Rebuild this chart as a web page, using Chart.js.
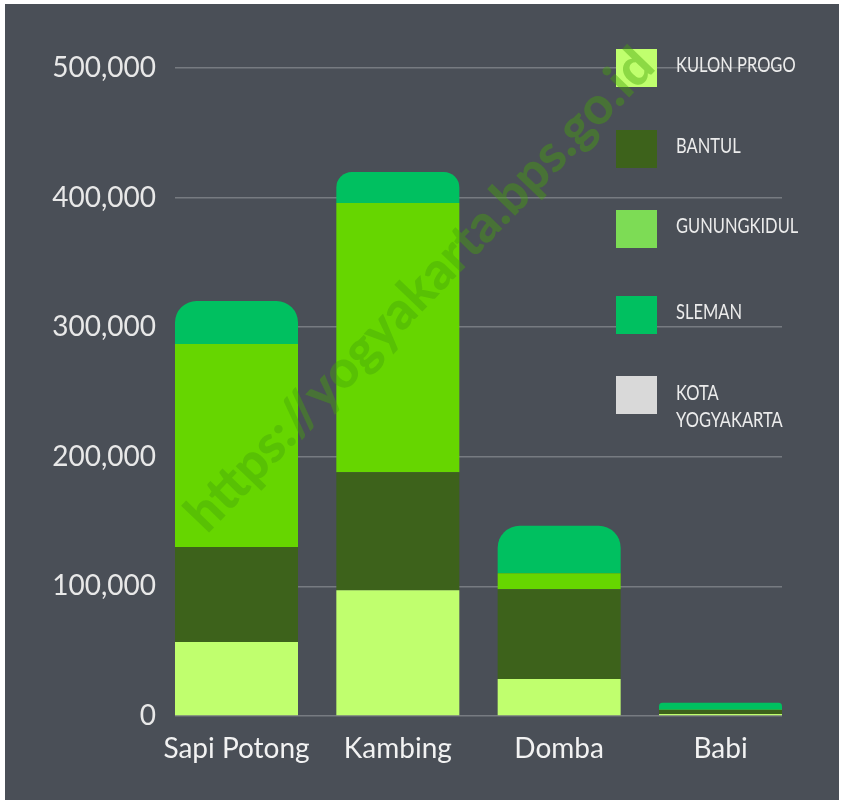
<!DOCTYPE html>
<html>
<head>
<meta charset="utf-8">
<script src="https://cdn.jsdelivr.net/npm/chart.js@4/dist/chart.umd.min.js"></script>
<style>
  html, body { margin: 0; padding: 0; background: #ffffff; }
  #wrap { width: 843px; height: 800px; position: relative; }
</style>
</head>
<body>
<div id="wrap"><canvas id="c" width="843" height="800"></canvas></div>
<script>
// ---- Data ----
const categories = ['Sapi Potong', 'Kambing', 'Domba', 'Babi'];
const seriesNames = ['KULON PROGO', 'BANTUL', 'GUNUNGKIDUL', 'SLEMAN', 'KOTA YOGYAKARTA'];
const kulonProgo     = [57100, 97000, 28500, 1500];
const bantul         = [73300, 91000, 69300, 3100];
const gunungkidul    = [156600, 207800, 12300, 300];
const sleman         = [33200, 24000, 36700, 5400];
const kotaYogyakarta = [0, 0, 0, 0];
const yTicks = [0, 100000, 200000, 300000, 400000, 500000];

// ---- Styles ----
const barColors    = ['#c0ff6e', '#3d621b', '#66d600', '#00c060', '#d9d9d9'];
const legendColors = ['#c0ff6e', '#3d621b', '#7ddc55', '#00c060', '#d9d9d9'];
const allSeries = [kulonProgo, bantul, gunungkidul, sleman, kotaYogyakarta];
const X_MIN = -0.3812, X_MAX = 3.3812;

const datasets = allSeries.map((vals, si) => ({
  label: seriesNames[si],
  data: vals.map((v, i) => ({ x: i, y: v })),
  backgroundColor: barColors[si],
  borderWidth: 0,
  borderRadius: si === 3 ? { topLeft: 22, topRight: 22, bottomLeft: 0, bottomRight: 0 } : 0,
  borderSkipped: 'start',
  categoryPercentage: 1,
  barPercentage: 0.7624
}));

const bgPlugin = {
  id: 'bg',
  beforeDraw(chart) {
    const ctx = chart.ctx;
    ctx.save();
    ctx.fillStyle = '#ffffff';
    ctx.fillRect(0, 0, chart.width, chart.height);
    ctx.fillStyle = '#4a4f57';
    ctx.fillRect(5, 4, 834, 796);
    ctx.restore();
  }
};

const legendPlugin = {
  id: 'customLegend',
  afterDraw(chart) {
    const ctx = chart.ctx;
    const boxTops = [49, 130, 210, 296, 376];
    ctx.save();
    chart.data.datasets.forEach((ds, i) => {
      ctx.fillStyle = legendColors[i];
      ctx.fillRect(616, boxTops[i], 41, 38);
      ctx.save();
      ctx.fillStyle = '#ececec';
      ctx.font = '22px Lato, sans-serif';
      ctx.textBaseline = 'middle';
      ctx.textAlign = 'left';
      ctx.translate(676, 0);
      ctx.scale(0.75, 1);
      const words = ds.label.split(' ');
      if (ds.label === 'KOTA YOGYAKARTA') {
        ctx.fillText(words[0], 0, boxTops[i] + 17);
        ctx.fillText(words[1], 0, boxTops[i] + 44);
      } else {
        ctx.fillText(ds.label, 0, boxTops[i] + 16);
      }
      ctx.restore();
    });
    ctx.restore();
  }
};

const watermarkPlugin = {
  id: 'watermark',
  afterDraw(chart) {
    const ctx = chart.ctx;
    ctx.save();
    ctx.translate(420, 290);
    ctx.rotate(-46 * Math.PI / 180);
    ctx.font = '900 52px Lato, sans-serif';
    ctx.fillStyle = 'rgba(70,165,10,0.42)';
    ctx.textAlign = 'center';
    ctx.textBaseline = 'middle';
    ctx.fillText('https://yogyakarta.bps.go.id', 0, 0);
    ctx.restore();
  }
};

new Chart(document.getElementById('c'), {
  type: 'bar',
  data: { datasets },
  plugins: [bgPlugin, legendPlugin, watermarkPlugin],
  options: {
    responsive: false,
    animation: false,
    layout: { padding: { top: 68, right: 61, left: 0, bottom: 0 } },
    plugins: { legend: { display: false }, tooltip: { enabled: false } },
    scales: {
      x: {
        type: 'linear',
        stacked: true,
        offset: false,
        bounds: 'data',
        min: X_MIN,
        max: X_MAX,
        afterBuildTicks(scale) {
          scale.ticks = categories.map((c, i) => ({ value: i }));
          scale.min = X_MIN;
          scale.max = X_MAX;
        },
        afterFit(scale) { scale.height = 84; },
        grid: { display: false, offset: false },
        border: { display: false },
        ticks: {
          autoSkip: false,
          maxRotation: 0,
          padding: 8,
          color: '#f2f2f2',
          font: { family: 'Lato, sans-serif', size: 28 },
          callback: (v) => categories[v]
        }
      },
      y: {
        stacked: true,
        min: 0,
        max: 500000,
        afterBuildTicks(scale) { scale.ticks = yTicks.map(v => ({ value: v })); },
        afterFit(scale) { scale.width = 175; },
        grid: { color: 'rgba(255,255,255,0.25)', lineWidth: 1.5, drawTicks: false },
        border: { display: false },
        ticks: {
          padding: 19,
          color: '#e8e8e8',
          font: { family: 'Lato, sans-serif', size: 28 },
          callback: (v) => v.toLocaleString('en-US')
        }
      }
    }
  }
});
</script>
</body>
</html>
